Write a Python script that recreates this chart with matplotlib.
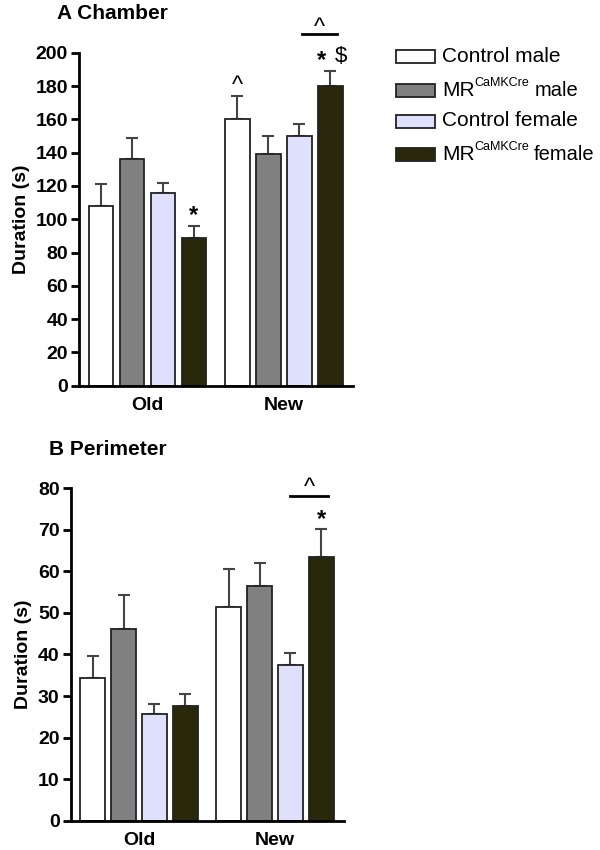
import matplotlib
matplotlib.use("Agg")
import matplotlib.pyplot as plt
import numpy as np
from matplotlib.patches import Rectangle

plt.rcParams['font.family'] = ['Liberation Sans', 'DejaVu Sans']

groups = ["Old", "New"]
series = ["Control male", "MR CaMKCre male", "Control female", "MR CaMKCre female"]
label_base = ["Control male", "MR", "Control female", "MR"]
label_sup = ["", "CaMKCre", "", "CaMKCre"]
label_tail = ["", "male", "", "female"]
colors = ["#ffffff", "#808080", "#dfe0fb", "#29280a"]

chamber_mean = [[108, 136, 116, 89], [160, 139, 150, 180]]
chamber_sem = [[13, 13, 6, 7], [14, 11, 7, 9]]
perimeter_mean = [[34.3, 46.2, 25.6, 27.5], [51.5, 56.5, 37.4, 63.4]]
perimeter_sem = [[5.3, 8.1, 2.5, 3.1], [9.0, 5.5, 3.0, 6.8]]

chamber_ticks = list(range(0, 201, 20))
perimeter_ticks = list(range(0, 81, 10))

stride = 4.4
width = 0.8

fig = plt.figure(figsize=(6, 8.5), dpi=100)
axA = fig.add_axes([0.1317, 0.5462, 0.4566, 0.3918])
axB = fig.add_axes([0.1178, 0.0345, 0.4555, 0.3910])


def draw(ax, means, sems, ticks, title):
    for g in range(len(groups)):
        for i in range(len(series)):
            x = g * stride + i
            ax.bar(x, means[g][i], width=width, color=colors[i], edgecolor="#222222",
                   linewidth=1.3, zorder=2)
            ax.errorbar(x, means[g][i], yerr=[[0], [sems[g][i]]], fmt="none",
                        ecolor="#444444", elinewidth=1.5, capsize=4.5, capthick=1.5, zorder=1)
    ax.set_ylim(ticks[0], ticks[-1])
    ax.set_yticks(ticks)
    ax.set_xlim(-0.71, 8.13)
    ax.set_xticks([1.5, stride + 1.5])
    ax.set_xticklabels(groups, fontsize=14, fontweight="bold")
    ax.tick_params(axis="x", length=0, pad=8)
    ax.tick_params(axis="y", labelsize=14, width=2, length=6, direction="out", pad=2)
    for lbl in ax.get_yticklabels():
        lbl.set_fontweight("bold")
    ax.spines["top"].set_visible(False)
    ax.spines["right"].set_visible(False)
    ax.spines["left"].set_linewidth(2)
    ax.spines["bottom"].set_linewidth(2)
    ax.set_ylabel("Duration (s)", fontsize=14, fontweight="bold", labelpad=4)
    ax.set_title(title, fontsize=15, fontweight="bold", loc="left", x=-0.08, pad=24)


draw(axA, chamber_mean, chamber_sem, chamber_ticks, "A Chamber")
draw(axB, perimeter_mean, perimeter_sem, perimeter_ticks, "B Perimeter")

# Annotations panel A
topA = [[m + s for m, s in zip(mr, sr)] for mr, sr in zip(chamber_mean, chamber_sem)]
axA.text(3, topA[0][3] + 6, "*", ha="center", va="center", fontsize=17, fontweight="bold")
axA.text(stride, topA[1][0] + 6, "^", ha="center", va="center", fontsize=17)
axA.text(stride + 3 - 0.28, topA[1][3] + 6.5, "*", ha="center", va="center", fontsize=17, fontweight="bold")
axA.text(stride + 3 + 0.33, topA[1][3] + 8.5, "$", ha="center", va="center", fontsize=16)
axA.plot([stride + 2.1, stride + 3.2], [211.5, 211.5], color="black", lw=2, clip_on=False)
axA.text(stride + 2.65, 215, "^", ha="center", va="center", fontsize=17, clip_on=False)

# Annotations panel B
topB = [[m + s for m, s in zip(mr, sr)] for mr, sr in zip(perimeter_mean, perimeter_sem)]
axB.text(stride + 3, topB[1][3] + 2.4, "*", ha="center", va="center", fontsize=17, fontweight="bold")
axB.plot([stride + 2.0, stride + 3.2], [78.2, 78.2], color="black", lw=2, clip_on=False)
axB.text(stride + 2.6, 80.0, "^", ha="center", va="center", fontsize=17, clip_on=False)

# Legend (drawn manually to get small superscripts)
row_y = [56, 90, 121, 154]  # pixel rows from top
H = 850.0
W = 600.0
for i in range(len(series)):
    yc = 1 - row_y[i] / H
    fig.add_artist(Rectangle((396 / W, yc - 6.5 / H), 39 / W, 13 / H, transform=fig.transFigure,
                             facecolor=colors[i], edgecolor="#222222", linewidth=1.3))
    t = fig.text(442 / W, yc, label_base[i], fontsize=15, va="center", ha="left")
    if label_sup[i]:
        s = fig.add_artist(matplotlib.text.Annotation(
            label_sup[i], xy=(1, 1), xycoords=t, xytext=(0, 2.2), textcoords="offset points",
            fontsize=9, va="top", ha="left"))
        fig.add_artist(matplotlib.text.Annotation(
            label_tail[i], xy=(1, 0.5), xycoords=(s, t), xytext=(3.5, 0), textcoords="offset points",
            fontsize=14.5, va="center", ha="left"))

fig.savefig("out.png", dpi=100)
